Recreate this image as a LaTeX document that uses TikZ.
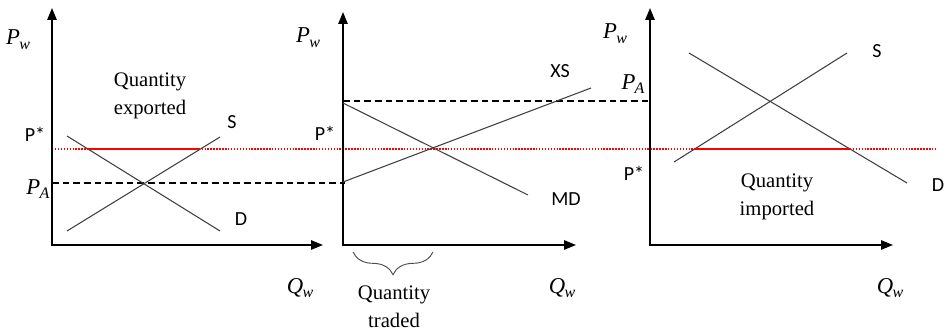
\documentclass[tikz,border=0pt]{standalone}
\usepackage{fontspec}
\setmainfont{Liberation Serif}
\setsansfont{Carlito}
\usetikzlibrary{arrows.meta,decorations.pathreplacing}
\newcommand{\pvar}[2]{\textit{#1}\kern-0.5pt\raisebox{-0.45ex}{\fontsize{12}{13}\selectfont\textit{#2}}}

\begin{document}
\begin{tikzpicture}[
  x=0.75pt,y=-0.75pt,
  axis/.style={line width=1.4pt,{Triangle[length=9pt,width=7pt]}-{Triangle[length=9pt,width=7pt]}},
  curve/.style={draw=black!75,line width=0.8pt},
  guide/.style={line width=0.8pt,dash pattern=on 5pt off 3pt},
  pstar/.style={red,line width=1.5pt,dash pattern=on 1.1pt off 1.1pt},
  qty/.style={red,line width=2.2pt},
  lab/.style={font=\sffamily\fontsize{15}{18}\selectfont,inner sep=0pt},
  mlab/.style={font=\fontsize{17}{20}\selectfont,inner sep=0pt},
  txt/.style={font=\fontsize{15.5}{21}\selectfont,align=center,inner sep=0pt}
]
\useasboundingbox (0,0) rectangle (945,331);

% axes
\coordinate (y1) at (52,8);   \coordinate (o1) at (52,245);  \coordinate (x1) at (323,245);
\coordinate (y2) at (343,12); \coordinate (o2) at (343,245); \coordinate (x2) at (576,245);
\coordinate (y3) at (650,8);  \coordinate (o3) at (650,245); \coordinate (x3) at (893,245);

% world price and autarky prices
\coordinate (ps0) at (52,149);  \coordinate (ps1) at (937,149);
\coordinate (pa0) at (52,183);  \coordinate (pa1) at (345,183);
\coordinate (pb0) at (343,101); \coordinate (pb1) at (650,101);
\draw[pstar] (ps0) -- (ps1);
\draw[guide] (pa0) -- (pa1);
\draw[guide] (pb0) -- (pb1);

\draw[axis] (y1) -- (o1) -- (x1);
\draw[axis] (y2) -- (o2) -- (x2);
\draw[axis] (y3) -- (o3) -- (x3);

% exporting country
\coordinate (s1a) at (67,231); \coordinate (s1b) at (220,137);
\coordinate (d1a) at (67,136); \coordinate (d1b) at (220,231);
\draw[curve] (s1a) -- (s1b);
\draw[curve] (d1a) -- (d1b);
\coordinate (ex0) at (88,149); \coordinate (ex1) at (199,149);
\draw[qty] (ex0) -- (ex1);

% world market
\coordinate (xsa) at (343,182); \coordinate (xsb) at (591,88);
\coordinate (mda) at (343,103); \coordinate (mdb) at (528,195);
\draw[curve] (xsa) -- (xsb);
\draw[curve] (mda) -- (mdb);
\coordinate (br0) at (353,252); \coordinate (br1) at (433,252);
\draw[black!70,line width=0.7pt,decorate,
  decoration={brace,mirror,amplitude=17pt}] (br0) -- (br1);

% importing country
\coordinate (s3a) at (674,162); \coordinate (s3b) at (847,53);
\coordinate (d3a) at (689,53);  \coordinate (d3b) at (907,183);
\draw[curve] (s3a) -- (s3b);
\draw[curve] (d3a) -- (d3b);
\coordinate (im0) at (695,149); \coordinate (im1) at (851,149);
\draw[qty] (im0) -- (im1);

% labels
\node[mlab] (pw1) at (18,40) {\pvar{P}{w}};
\node[mlab] (pw2) at (308,38) {\pvar{P}{w}};
\node[mlab] (pw3) at (615,34) {\pvar{P}{w}};
\node[mlab] (qw1) at (300,288) {\pvar{Q}{w}};
\node[mlab] (qw2) at (562,288) {\pvar{Q}{w}};
\node[mlab] (qw3) at (890,288) {\pvar{Q}{w}};
\node[mlab] (pa1l) at (38,189) {\pvar{P}{A}};
\node[mlab] (pa3l) at (633,84) {\pvar{P}{A}};
\node[lab] (ps1l) at (35,134) {P*};
\node[lab] (ps2l) at (325,133) {P*};
\node[lab] (ps3l) at (634,173) {P*};
\node[lab] (s1l) at (232,122) {S};
\node[lab] (d1l) at (241,219) {D};
\node[lab] (xsl) at (560,71) {XS};
\node[lab] (mdl) at (566,199) {MD};
\node[lab] (s3l) at (877,51) {S};
\node[lab] (d3l) at (938,185) {D};
\node[txt] (exl) at (150,96) {Quantity\\exported};
\node[txt] (iml) at (777,197) {Quantity\\imported};
\node[txt] (trl) at (394,307) {Quantity\\traded};

\end{tikzpicture}
\end{document}
